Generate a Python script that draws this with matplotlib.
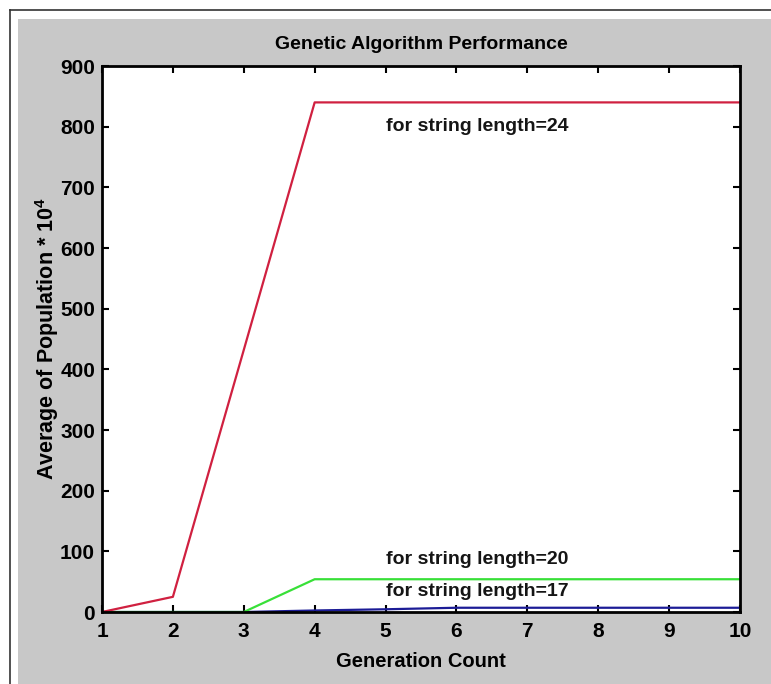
import numpy as np
import matplotlib.pyplot as plt
from matplotlib.patches import Rectangle
from matplotlib.lines import Line2D

plt.rcParams['font.family'] = ['Liberation Sans', 'DejaVu Sans']
plt.rcParams['mathtext.fontset'] = 'custom'
plt.rcParams['mathtext.bf'] = 'Liberation Sans:bold'
plt.rcParams['mathtext.rm'] = 'Liberation Sans'

# data
generations = [1, 2, 3, 4, 5, 6, 7, 8, 9, 10]
len24 = [0, 25, 432, 840, 840, 840, 840, 840, 840, 840]
len20 = [0, 0, 0, 54, 54, 54, 54, 54, 54, 54]
len17 = [0, 0, 0, 2.5, 4.5, 7, 7, 7, 7, 7]
labels = ['for string length=24', 'for string length=20', 'for string length=17']
label_pos = [(5.0, 800), (5.0, 87), (5.0, 33)]

W, H = 771, 684
fig = plt.figure(figsize=(W / 100, H / 100), dpi=100, facecolor='white')

# gray panel and frame lines like the screenshot
fig.patches.append(Rectangle((18 / W, 0), 1, 1 - 19 / H, transform=fig.transFigure,
                             facecolor='#c8c8c8', edgecolor='none', zorder=-10))
fig.lines.append(Line2D([10 / W, 10 / W], [0, 1 - 10 / H], transform=fig.transFigure,
                        color='#333333', lw=1.2, zorder=-10))
fig.lines.append(Line2D([10 / W, 1], [1 - 10 / H, 1 - 10 / H], transform=fig.transFigure,
                        color='#333333', lw=1.2, zorder=-10))

ax = fig.add_axes([102 / W, 1 - 612 / H, (740 - 102) / W, (612 - 66) / H])
ax.set_facecolor('white')

ax.plot(generations, len17, color='#1c1c96', lw=1.6)
ax.plot(generations, len20, color='#38e038', lw=1.6)
ax.plot(generations, len24, color='#d02040', lw=1.6)

for txt, (x, y) in zip(labels, label_pos):
    ax.text(x, y, txt, fontsize=14, fontweight='bold', va='center', ha='left',
            color='#151515')

ax.set_xlim(1, 10)
ax.set_ylim(0, 900)
ax.set_xticks(range(1, 11))
ax.set_yticks(range(0, 901, 100))
ax.tick_params(direction='in', top=True, right=True, length=5, width=1.5,
               labelsize=15)
ax.tick_params(axis='x', pad=7)
ax.tick_params(axis='y', pad=5)
for lbl in ax.get_xticklabels() + ax.get_yticklabels():
    lbl.set_fontweight('bold')
for s in ax.spines.values():
    s.set_linewidth(2)

ax.set_title('Genetic Algorithm Performance', fontsize=14, fontweight='bold', pad=12)
ax.set_xlabel('Generation Count', fontsize=14.5, fontweight='bold', labelpad=8)
ax.set_ylabel('Average of Population * 10$^{\\mathbf{4}}$', fontsize=15.5,
              fontweight='bold', labelpad=-1)

fig.savefig('out.png', dpi=100)
